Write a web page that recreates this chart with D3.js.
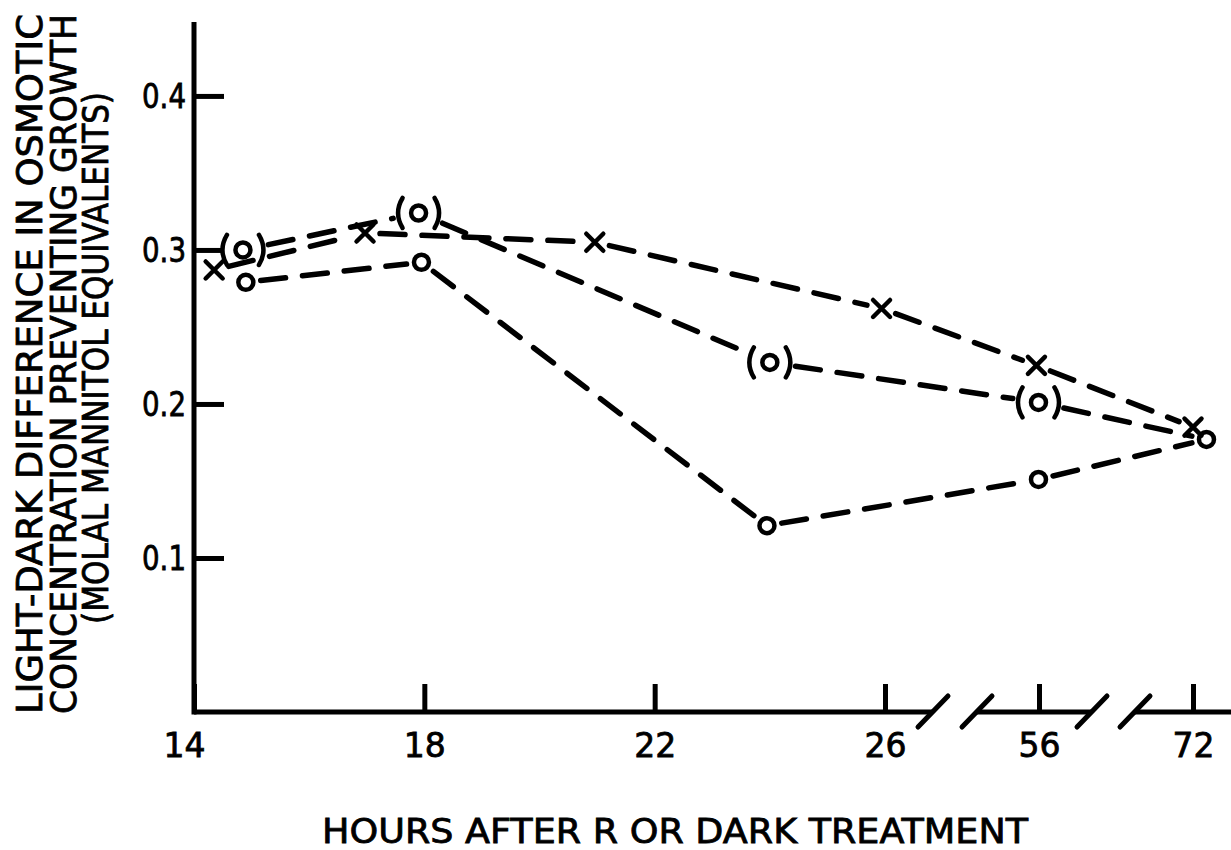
<!DOCTYPE html>
<html>
<head>
<meta charset="utf-8">
<script src="https://cdn.jsdelivr.net/npm/d3@7"></script>
<style>
  body { margin: 0; background: #fff; }
  svg { display: block; }
  text { font-family: "DejaVu Sans", sans-serif; fill: #000; }
</style>
</head>
<body>
<svg id="chart" width="1231" height="850"></svg>
<script>
// hours after treatment and light-dark difference (molal mannitol equivalents)
const circleHours = [14.9, 17.95, 23.95, 55.9, 73.4];
const circleValues = [0.279, 0.292, 0.121, 0.151, 0.177];

const parenHours = [14.85, 17.9, 24.0, 55.9, 73.4];
const parenValues = [0.300, 0.324, 0.227, 0.201, 0.177];

const crossHours = [14.35, 16.97, 20.96, 25.94, 55.5, 72.0];
const crossValues = [0.287, 0.311, 0.305, 0.262, 0.225, 0.185];

const xTicks = [14, 18, 22, 26, 56, 72];
const yTicks = [0.1, 0.2, 0.3, 0.4];

const yTitle = [
  "LIGHT-DARK DIFFERENCE IN OSMOTIC",
  "CONCENTRATION PREVENTING GROWTH",
  "(MOLAL MANNITOL EQUIVALENTS)"
];
const xTitle = "HOURS AFTER R OR DARK TREATMENT";

const svg = d3.select("#chart");

// broken time axis: 14-26 linear, then 56 and 72 each on their own piece
const x = d3.scaleLinear()
  .domain([14, 26, 56, 72])
  .range([194, 885, 1039, 1193]);
const y = d3.scaleLinear()
  .domain([0, 0.448])
  .range([712, 22]);

const axisY = 712;
const lw = 5;

// y axis, ticks pointing into the plot
const yAxis = d3.axisLeft(y)
  .tickValues(yTicks)
  .tickFormat(d3.format(".1f"))
  .tickSizeInner(-30)
  .tickSizeOuter(0)
  .tickPadding(8);

const gy = svg.append("g")
  .attr("transform", "translate(194,0)")
  .call(yAxis);
gy.select(".domain").remove();
gy.selectAll(".tick line").attr("stroke", "#000").attr("stroke-width", lw);
gy.selectAll(".tick text")
  .attr("font-size", 33)
  .attr("dy", "0.36em")
  .attr("textLength", 44)
  .attr("lengthAdjust", "spacingAndGlyphs")
  .attr("stroke", "#000")
  .attr("stroke-width", 0.8)
  .style("font-family", "DejaVu Sans");
gy.append("line")
  .attr("x1", 0).attr("x2", 0)
  .attr("y1", y.range()[1]).attr("y2", axisY + lw / 2)
  .attr("stroke", "#000").attr("stroke-width", lw);

// x axis
const xAxis = d3.axisBottom(x)
  .tickValues(xTicks)
  .tickFormat(d3.format("d"))
  .tickSizeInner(-28)
  .tickSizeOuter(0)
  .tickPadding(22);

const gx = svg.append("g")
  .attr("transform", "translate(0," + axisY + ")")
  .call(xAxis);
gx.select(".domain").remove();
gx.selectAll(".tick line").attr("stroke", "#000").attr("stroke-width", lw);
gx.selectAll(".tick text")
  .attr("font-size", 33)
  .attr("stroke", "#000")
  .attr("stroke-width", 0.8)
  .style("font-family", "DejaVu Sans")
  .attr("dx", d => (d === 14 ? -10 : 0));

// axis pieces between the break marks
const pieces = [[194, 933], [977, 1092], [1135, 1231]];
gx.selectAll(".piece")
  .data(pieces)
  .enter()
  .append("line")
  .attr("class", "piece")
  .attr("x1", d => d[0]).attr("x2", d => d[1])
  .attr("y1", 0).attr("y2", 0)
  .attr("stroke", "#000").attr("stroke-width", lw)
  .attr("stroke-linecap", "butt");

const slashes = [933, 977, 1092, 1135];
gx.selectAll(".slash")
  .data(slashes)
  .enter()
  .append("line")
  .attr("class", "slash")
  .attr("x1", d => d - 15).attr("y1", 15)
  .attr("x2", d => d + 15).attr("y2", -16)
  .attr("stroke", "#000").attr("stroke-width", lw)
  .attr("stroke-linecap", "round");

// dashed series lines, leaving a gap round every marker
function drawSeries(hours, values, gaps) {
  const pts = hours.map((h, i) => [x(h), y(values[i])]);
  const g = svg.append("g");
  for (let i = 0; i < pts.length - 1; i++) {
    const p = pts[i], q = pts[i + 1];
    const dx = q[0] - p[0], dy = q[1] - p[1];
    const len = Math.hypot(dx, dy);
    const ux = dx / len, uy = dy / len;
    const a = gaps[i], b = gaps[i + 1];
    g.append("line")
      .attr("x1", p[0] + ux * a).attr("y1", p[1] + uy * a)
      .attr("x2", q[0] - ux * b).attr("y2", q[1] - uy * b)
      .attr("stroke", "#000")
      .attr("stroke-width", 5.5)
      .attr("stroke-linecap", "round")
      .attr("stroke-dasharray", "25,17");
  }
  return pts;
}

const circlePts = drawSeries(circleHours, circleValues, circleHours.map(() => 15));
const parenPts = drawSeries(parenHours, parenValues,
  parenHours.map((h, i) => (i === parenHours.length - 1 ? 15 : 26)));
const crossPts = drawSeries(crossHours, crossValues, crossHours.map(() => 15));

const markers = svg.append("g")
  .attr("fill", "none")
  .attr("stroke", "#000")
  .attr("stroke-linecap", "round");

markers.selectAll(".dot")
  .data(circlePts)
  .enter()
  .append("circle")
  .attr("class", "dot")
  .attr("cx", d => d[0]).attr("cy", d => d[1])
  .attr("r", 7.5)
  .attr("stroke-width", 4.5)
  .attr("fill", "#fff");

// last (o) point sits on the plain circle at 72 h
const parenShown = parenPts.slice(0, parenPts.length - 1);
markers.selectAll(".paren")
  .data(parenShown)
  .enter()
  .append("g")
  .attr("class", "paren")
  .attr("transform", d => "translate(" + d[0] + "," + d[1] + ")")
  .each(function () {
    const g = d3.select(this);
    g.append("circle").attr("r", 7.5).attr("stroke-width", 4.5);
    g.append("path")
      .attr("d", "M-16,-15 Q-25,0 -16,15 M16,-15 Q25,0 16,15")
      .attr("stroke-width", 4.5);
  });

markers.selectAll(".cross")
  .data(crossPts)
  .enter()
  .append("path")
  .attr("class", "cross")
  .attr("d", d => {
    const s = 8.5;
    return "M" + (d[0] - s) + "," + (d[1] - s) + "L" + (d[0] + s) + "," + (d[1] + s) +
      "M" + (d[0] - s) + "," + (d[1] + s) + "L" + (d[0] + s) + "," + (d[1] - s);
  })
  .attr("stroke-width", 4.5);

// titles
const yTitleBase = [42, 76, 108];
svg.selectAll(".ytitle")
  .data(yTitle)
  .enter()
  .append("text")
  .attr("class", "ytitle")
  .attr("transform", (d, i) => "translate(" + yTitleBase[i] + "," + (i === 2 ? 358 : 364) + ") rotate(-90)")
  .attr("text-anchor", "middle")
  .attr("font-size", 35)
  .attr("textLength", (d, i) => (i === 2 ? 532 : 700))
  .attr("lengthAdjust", "spacingAndGlyphs")
  .attr("stroke", "#000")
  .attr("stroke-width", 0.8)
  .text(d => d);

svg.append("text")
  .attr("x", 675)
  .attr("y", 843)
  .attr("text-anchor", "middle")
  .attr("font-size", 34)
  .attr("textLength", 706)
  .attr("lengthAdjust", "spacingAndGlyphs")
  .attr("stroke", "#000")
  .attr("stroke-width", 0.8)
  .text(xTitle);
</script>
</body>
</html>
